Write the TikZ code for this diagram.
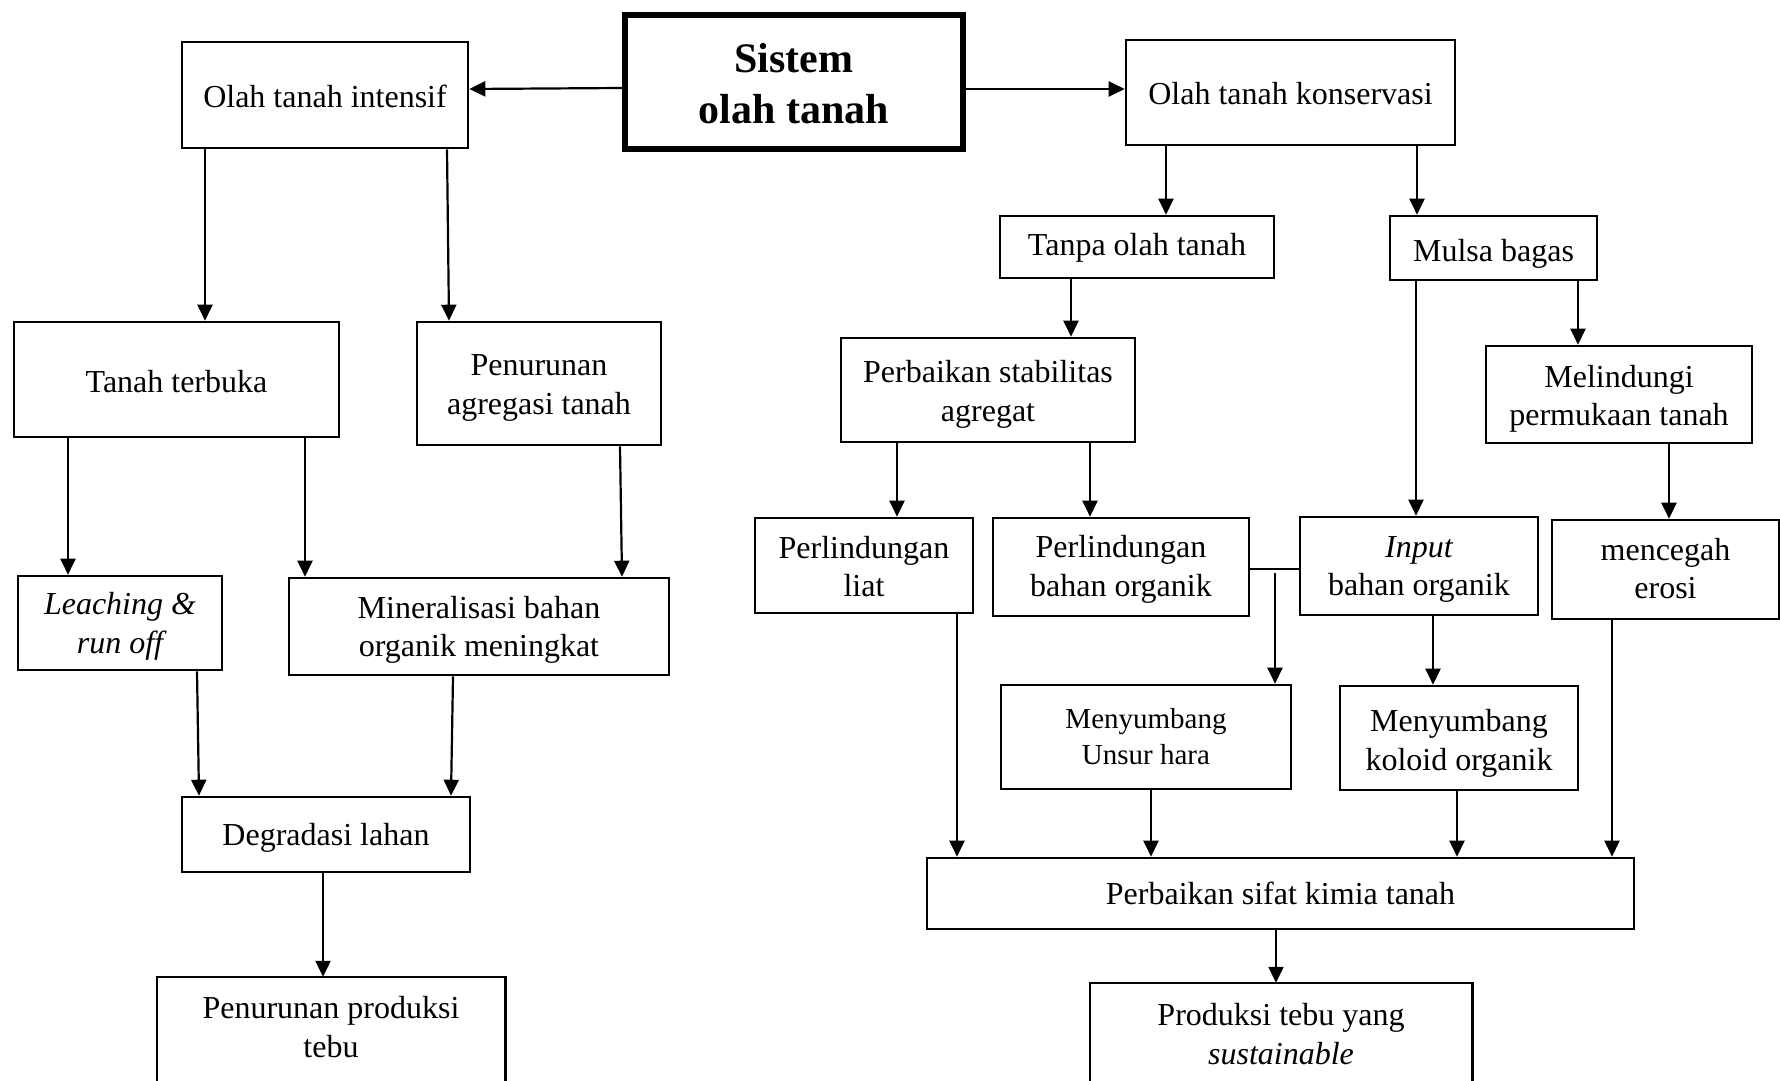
\documentclass[tikz,border=0pt]{standalone}
\usepackage{fontspec}
\setmainfont{Liberation Serif}
\usetikzlibrary{arrows.meta}
\begin{document}
\begin{tikzpicture}[x=1pt,y=-1pt,
  box/.style={draw,line width=2.6pt,inner sep=0pt,align=center,font=\fontsize{32}{38.5}\selectfont},
  bl/.style={text height=#1,text depth=0pt},
  txtbox/.style={draw=none,inner sep=0pt,align=center,font=\fontsize{32}{38.5}\selectfont},
  edge/.style={line width=2.6pt},
  arr/.style={-{Triangle[length=16pt,width=15pt]},line width=2.2pt},
  plain/.style={line width=1.4pt}]
\clip (0,0) rectangle (1780,1081);
\useasboundingbox (0,0) rectangle (1780,1081);

% title
\node[box,line width=6pt,minimum width=338,minimum height=134,bl=82pt,font=\fontsize{42}{51}\selectfont\bfseries] (title) at (794,82) {Sistem\\olah tanah};

% left branch
\node[box,bl=24pt,minimum width=286,minimum height=106] (intensif) at (325,95) {Olah tanah intensif};
\node[box,bl=26.4pt,minimum width=325,minimum height=115] (terbuka) at (176.5,379.5) {Tanah terbuka};
\node[box,bl=61.8pt,minimum width=244,minimum height=123] (agregasi) at (539,383.5) {Penurunan\\agregasi tanah};
\node[box,bl=60.2pt,minimum width=204,minimum height=94] (leaching) at (120,623) {\itshape Leaching \&\\\itshape run off};
\node[box,bl=60.2pt,minimum width=380,minimum height=97] (mineral) at (479,626.5) {Mineralisasi bahan\\organik meningkat};
\node[box,bl=21.8pt,minimum width=288,minimum height=75] (degradasi) at (326,834.5) {Degradasi lahan};
\node[txtbox,minimum width=348,minimum height=100] (turun) at (331,1027) {Penurunan produksi\\tebu};
\draw[edge] ([yshift=-80pt]turun.south west) -- (turun.north west) -- (turun.north east) -- ([yshift=-80pt]turun.south east);

% right branch
\node[box,bl=24pt,minimum width=329,minimum height=105] (konservasi) at (1290.5,92.5) {Olah tanah konservasi};
\node[box,bl=17.2pt,minimum width=274,minimum height=62] (tanpa) at (1137,247) {Tanpa olah tanah};
\node[box,bl=27.5pt,minimum width=207,minimum height=64] (mulsa) at (1493.5,248) {Mulsa bagas};
\node[box,bl=62.4pt,minimum width=294,minimum height=104] (stabilitas) at (988,390) {Perbaikan stabilitas\\agregat};
\node[box,bl=62.4pt,minimum width=266,minimum height=97] (melindungi) at (1619,394.5) {Melindungi\\permukaan tanah};
\node[box,bl=62.6pt,minimum width=218,minimum height=95] (liat) at (864,565.5) {Perlindungan\\liat};
\node[box,bl=58pt,minimum width=256,minimum height=98] (pbo) at (1121,567) {Perlindungan\\bahan organik};
\node[box,bl=59.5pt,minimum width=238,minimum height=98] (input) at (1419,566) {\itshape Input\\bahan organik};
\node[box,bl=58.2pt,minimum width=227,minimum height=99] (erosi) at (1665.5,569.5) {mencegah\\erosi};
\node[box,bl=55.8pt,minimum width=290,minimum height=104,font=\fontsize{29}{36}\selectfont] (hara) at (1146,737) {Menyumbang\\Unsur hara};
\node[box,bl=64.8pt,minimum width=238,minimum height=104] (koloid) at (1459,738) {Menyumbang\\koloid organik};
\node[box,bl=21.8pt,minimum width=707,minimum height=71] (kimia) at (1280.5,893.5) {Perbaikan sifat kimia tanah};
\node[txtbox,minimum width=382,minimum height=102] (sustainable) at (1281,1034) {Produksi tebu yang\\\itshape sustainable};
\draw[edge] ([yshift=-80pt]sustainable.south west) -- (sustainable.north west) -- (sustainable.north east) -- ([yshift=-80pt]sustainable.south east);

% connectors from title
\draw[arr] (title.west |- 0,88) -- (intensif.east |- 0,89);
\draw[arr] (title.east |- 0,89) -- (konservasi.west |- 0,89);

% left branch connectors
\draw[arr] (intensif.south -| 205,0) -- (terbuka.north -| 205,0);
\draw[arr] (intensif.south -| 447,0) -- (agregasi.north -| 449,0);
\draw[arr] (terbuka.south -| 68,0) -- (leaching.north -| 68,0);
\draw[arr] (terbuka.south -| 305,0) -- (mineral.north -| 305,0);
\draw[arr] (agregasi.south -| 620,0) -- (mineral.north -| 622,0);
\draw[arr] (leaching.south -| 197,0) -- (degradasi.north -| 199,0);
\draw[arr] (mineral.south -| 453,0) -- (degradasi.north -| 451,0);
\draw[arr] (degradasi.south -| 323,0) -- (turun.north -| 323,0);

% right branch connectors
\draw[arr] (konservasi.south -| 1166,0) -- (tanpa.north -| 1166,0);
\draw[arr] (konservasi.south -| 1417,0) -- (mulsa.north -| 1417,0);
\draw[arr] (tanpa.south -| 1071,0) -- (stabilitas.north -| 1071,0);
\draw[arr] (mulsa.south -| 1416,0) -- (input.north -| 1416,0);
\draw[arr] (mulsa.south -| 1578,0) -- (melindungi.north -| 1578,0);
\draw[arr] (stabilitas.south -| 897,0) -- (liat.north -| 897,0);
\draw[arr] (stabilitas.south -| 1090,0) -- (pbo.north -| 1090,0);
\draw[arr] (melindungi.south -| 1669,0) -- (erosi.north -| 1669,0);
\draw[plain] (pbo.east |- 0,569) -- (input.west |- 0,569);
\coordinate (split) at (1275,573);
\draw[arr] (split) -- (hara.north -| split);
\draw[arr] (input.south -| 1433,0) -- (koloid.north -| 1433,0);
\draw[arr] (liat.south -| 957,0) -- (kimia.north -| 957,0);
\draw[arr] (hara.south -| 1151,0) -- (kimia.north -| 1151,0);
\draw[arr] (koloid.south -| 1457,0) -- (kimia.north -| 1457,0);
\draw[arr] (erosi.south -| 1612,0) -- (kimia.north -| 1612,0);
\draw[arr] (kimia.south -| 1276,0) -- (sustainable.north -| 1276,0);
\end{tikzpicture}
\end{document}
